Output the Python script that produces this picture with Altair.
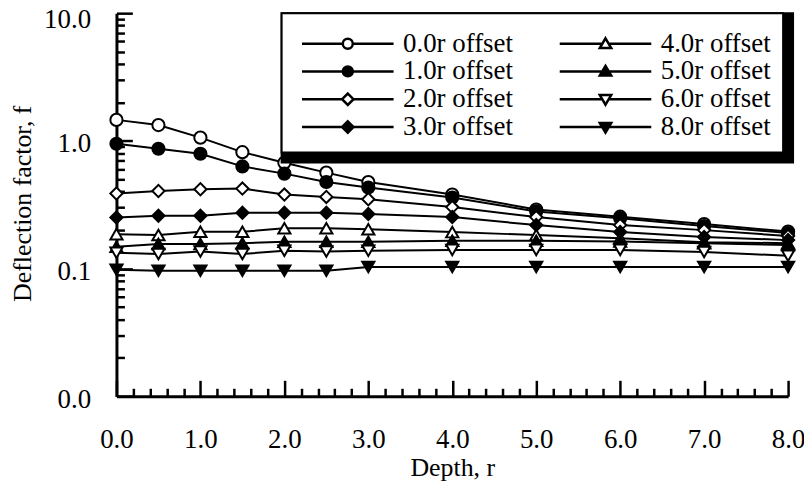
import altair as alt
import pandas as pd

# ---------------- data ----------------
depth = [0, 0.5, 1, 1.5, 2, 2.5, 3, 4, 5, 6, 7, 8]
series_labels = ["0.0r offset", "1.0r offset", "2.0r offset", "3.0r offset",
                 "4.0r offset", "5.0r offset", "6.0r offset", "8.0r offset"]
f_00 = [1.46, 1.33, 1.06, 0.816, 0.675, 0.564, 0.476, 0.38, 0.29, 0.255, 0.223, 0.195]
f_10 = [0.949, 0.867, 0.793, 0.631, 0.554, 0.476, 0.431, 0.36, 0.28, 0.248, 0.215, 0.19]
f_20 = [0.387, 0.405, 0.418, 0.423, 0.380, 0.364, 0.349, 0.303, 0.253, 0.219, 0.200, 0.180]
f_30 = [0.251, 0.259, 0.259, 0.273, 0.273, 0.273, 0.267, 0.253, 0.219, 0.193, 0.177, 0.167]
f_40 = [0.186, 0.183, 0.194, 0.194, 0.207, 0.207, 0.203, 0.193, 0.183, 0.173, 0.161, 0.158]
f_50 = [0.148, 0.156, 0.156, 0.158, 0.162, 0.162, 0.162, 0.165, 0.165, 0.163, 0.158, 0.153]
f_60 = [0.133, 0.130, 0.136, 0.130, 0.138, 0.136, 0.138, 0.140, 0.140, 0.140, 0.135, 0.126]
f_80 = [0.098, 0.096, 0.096, 0.096, 0.096, 0.096, 0.103, 0.103, 0.103, 0.103, 0.103, 0.103]
series_values = [f_00, f_10, f_20, f_30, f_40, f_50, f_60, f_80]

x_major = [0, 1, 2, 3, 4, 5, 6, 7, 8]
x_minor = [round(i * 0.2, 1) for i in range(41) if i % 5 != 0]
y_major = [0.01, 0.1, 1, 10]
y_minor = [k * m for m in (0.01, 0.1, 1) for k in range(2, 10)]

# ---------------- styles ----------------
FONT = "Liberation Serif"
FS = 27      # tick labels and legend
TFS = 26     # axis titles
point_shapes = ["circle", "circle", "diamond", "diamond",
                "triangle-up", "triangle-up", "triangle-down", "triangle-down"]
point_fills = ["white", "black", "white", "black", "white", "black", "white", "black"]
legend_strokes = ["black"] * 8

L = 9.2
p_circle = f"M-{L},0L-1,0M1,0L{L},0M-1,0A1,1,0,1,1,1,0A1,1,0,1,1,-1,0Z"
p_diamond = f"M-{L},0L-1.15,0M1.15,0L{L},0M0,-1.15L1.15,0L0,1.15L-1.15,0Z"
p_tri_up = f"M-{L},0L-0.65,0M0.65,0L{L},0M0,-1.1L1.15,0.85L-1.15,0.85Z"
p_tri_dn = f"M-{L},0L-0.65,0M0.65,0L{L},0M0,1.1L1.15,-0.85L-1.15,-0.85Z"
legend_paths = [p_circle, p_circle, p_diamond, p_diamond, p_tri_up, p_tri_up, p_tri_dn, p_tri_dn]

rows = []
for lab, vals in zip(series_labels, series_values):
    for d, v in zip(depth, vals):
        rows.append({"depth": d, "f": v, "series": lab, "lg": lab, "lg2": lab})
df = pd.DataFrame(rows)

W, H = 675, 385
xscale = alt.Scale(domain=[0, 8], nice=False, zero=False)
yscale = alt.Scale(type="log", domain=[0.01, 10], nice=False)

x_main = alt.Axis(orient="bottom", values=x_major, format=".1f", ticks=False, tickSize=0,
                  domain=True, domainWidth=3, domainColor="black", grid=False,
                  labelFont=FONT, labelFontSize=FS, labelColor="black",
                  labelBaseline="alphabetic", labelPadding=52, labelFlush=False,
                  labelOverlap=False, labelBound=False,
                  title="Depth, r", titleFont=FONT, titleFontSize=TFS,
                  titleFontWeight="normal", titleColor="black",
                  titleBaseline="alphabetic", titleY=80)
y_main = alt.Axis(orient="left", values=y_major, format=".1f", ticks=False, tickSize=0,
                  domain=True, domainWidth=3, domainColor="black", grid=False,
                  labelFont=FONT, labelFontSize=FS, labelColor="black",
                  labelBaseline="alphabetic",
                  labelOffset={"condition": {"test": "datum.value >= 10", "value": 14.5}, "value": 11},
                  labelPadding=26,
                  labelFlush=False, labelOverlap=False, labelBound=False,
                  title="Deflection factor, f", titleFont=FONT, titleFontSize=TFS,
                  titleFontWeight="normal", titleColor="black", titleAngle=270,
                  titleBaseline="alphabetic", titleX=-86, titleY=191)


def tick_axis(orient, vals, length):
    return alt.Axis(orient=orient, values=vals, offset=-length, tickSize=length,
                    tickWidth=2.5, tickColor="black", domain=False, labels=False,
                    title=None, grid=False)


base = alt.Chart(df)

lines = base.mark_line(color="black", strokeWidth=2).encode(
    x=alt.X("depth:Q", scale=xscale, axis=x_main),
    y=alt.Y("f:Q", scale=yscale, axis=y_main),
    detail="series:N",
)

points = base.mark_point(filled=True, size=150, stroke="black", strokeWidth=2, opacity=1).encode(
    x=alt.X("depth:Q", scale=xscale, axis=None),
    y=alt.Y("f:Q", scale=yscale, axis=None),
    shape=alt.Shape("series:N", scale=alt.Scale(domain=series_labels, range=point_shapes), legend=None),
    fill=alt.Fill("series:N", scale=alt.Scale(domain=series_labels, range=point_fills), legend=None),
)

major_ticks = base.transform_filter("false").mark_point(opacity=0).encode(
    x=alt.X("depth:Q", scale=xscale, axis=tick_axis("bottom", x_major, 16)),
    y=alt.Y("f:Q", scale=yscale, axis=tick_axis("left", y_major, 16)),
)
minor_ticks = base.transform_filter("false").mark_point(opacity=0).encode(
    x=alt.X("depth:Q", scale=xscale, axis=tick_axis("bottom", x_minor, 8)),
    y=alt.Y("f:Q", scale=yscale, axis=tick_axis("left", y_minor, 8)),
)

P = 12
common_legend = dict(orient="none", legendX=166, legendY=0, columns=2, direction="vertical",
                     symbolSize=100, symbolStrokeWidth=2.5, symbolOffset=41,
                     labelOffset=42, labelFont=FONT, labelFontSize=FS,
                     columnPadding=38, rowPadding=0, labelLimit=300,
                     title=" ", titleFontSize=2, titlePadding=3)

main_legend = alt.Legend(padding=P, fillColor="white", strokeColor="black",
                         symbolStrokeColor="black", labelColor="black", zindex=2,
                         **common_legend)
shadow_legend = alt.Legend(padding=P + 5, fillColor="black", strokeColor="black",
                           symbolStrokeColor="black", symbolFillColor="black",
                           labelColor="black", zindex=1, **common_legend)

legend_layer = base.transform_filter("false").mark_point(filled=True, opacity=1).encode(
    shape=alt.Shape("lg:N", scale=alt.Scale(domain=series_labels, range=legend_paths), legend=main_legend),
    fill=alt.Fill("lg:N", scale=alt.Scale(domain=series_labels, range=point_fills), legend=main_legend),
    stroke=alt.Stroke("lg:N", scale=alt.Scale(domain=series_labels, range=legend_strokes), legend=main_legend),
)
shadow_layer = base.transform_filter("false").mark_point(filled=True, stroke="black", opacity=1).encode(
    shape=alt.Shape("lg2:N", scale=alt.Scale(domain=series_labels, range=legend_paths), legend=shadow_legend),
)

chart = alt.layer(lines, points, major_ticks, minor_ticks, legend_layer, shadow_layer).resolve_axis(
    x="independent", y="independent"
).resolve_scale(
    shape="independent", fill="independent", stroke="independent"
).properties(
    width=W, height=H,
    padding={"left": 109, "top": 4, "right": 16, "bottom": 89},
    autosize=alt.AutoSizeParams(type="none"),
    background="white",
).configure_view(stroke=None).configure_legend(strokeWidth=2)

chart.save("out.html", embed_options={"renderer": "svg", "actions": False})
